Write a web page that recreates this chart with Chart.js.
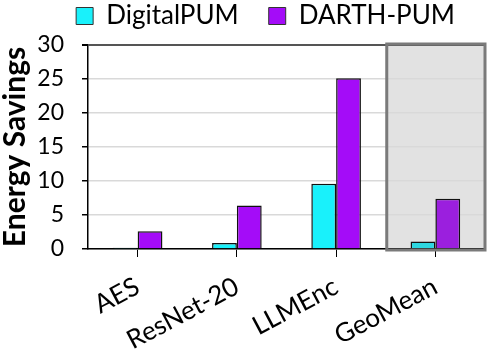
<!DOCTYPE html>
<html>
<head>
<meta charset="utf-8">
<script src="https://cdn.jsdelivr.net/npm/chart.js@4.4.0/dist/chart.umd.min.js"></script>
<style>
  body { margin: 0; background: #fff; }
</style>
</head>
<body>
<canvas id="myChart" width="488" height="357"></canvas>
<script>
var categories = ["AES", "ResNet-20", "LLMEnc", "GeoMean"]
var digitalPUM = [0.2, 0.9, 9.6, 1.1]
var darthPUM = [2.6, 6.4, 25.1, 7.4]
var yTicks = [0, 5, 10, 15, 20, 25, 30]

var cyan = "#19F1FB", cyanGeo = "#2DD7E0"
var purple = "#A40CF8", purpleGeo = "#9B1FDE"
var font = "Lato, 'Open Sans', sans-serif"

// grey box behind the GeoMean group
var geoBox = {
    id: 'geoBox',
    beforeInit: function(chart){
        // legend sits high, leave room under it
        var lg = chart.legend
        var fit = lg.fit
        lg.fit = function(){ fit.call(lg); lg.height = 72 }
    },
    rect: function(chart){
        var x = chart.scales.x, y = chart.scales.y
        var half = (x.getPixelForValue(1) - x.getPixelForValue(0)) / 2
        var cx = x.getPixelForValue(3)
        return {l: cx - half + 1, r: cx + half, t: y.getPixelForValue(30) - 1, b: y.getPixelForValue(0) + 1}
    },
    beforeDraw: function(chart){
        var r = this.rect(chart), c = chart.ctx
        c.save()
        c.fillStyle = "#E2E2E2"
        c.fillRect(r.l, r.t, r.r - r.l, r.b - r.t)
        c.restore()
    },
    afterDatasetsDraw: function(chart){
        var r = this.rect(chart), c = chart.ctx
        c.save()
        c.strokeStyle = "#7A7A7A"
        c.lineWidth = 3
        c.strokeRect(r.l, r.t, r.r - r.l, r.b - r.t)
        c.restore()
    }
}

var myChart = document.getElementById("myChart").getContext('2d')
var chart = new Chart(myChart, {
    type: 'bar',
    data: {
        labels: categories,
        datasets: [{
            label: "DigitalPUM",
            data: digitalPUM,
            backgroundColor: [cyan, cyan, cyan, cyanGeo],
            borderColor: "#111",
            borderWidth: 1.5,
            categoryPercentage: 0.5,
            barPercentage: 1.0
        }, {
            label: "DARTH-PUM",
            data: darthPUM,
            backgroundColor: [purple, purple, purple, purpleGeo],
            borderColor: "#111",
            borderWidth: 1.5,
            categoryPercentage: 0.5,
            barPercentage: 1.0
        }]
    },
    plugins: [geoBox],
    options: {
        responsive: false,
        animation: false,
        layout: { padding: { left: -3, right: 3, top: -27, bottom: 0 } },
        plugins: {
            tooltip: { enabled: false },
            legend: {
                position: 'top',
                align: 'end',
                labels: {
                    color: "#000",
                    font: { family: font, size: 26 },
                    boxWidth: 17,
                    boxHeight: 17,
                    padding: 30,
                    generateLabels: function(chart){
                        return [
                            {text: "DigitalPUM", fillStyle: cyan, strokeStyle: "#333", lineWidth: 1, datasetIndex: 0},
                            {text: "DARTH-PUM", fillStyle: purple, strokeStyle: "#333", lineWidth: 1, datasetIndex: 1}
                        ]
                    }
                }
            }
        },
        scales: {
            x: {
                offset: true,
                grid: { offset: false, drawOnChartArea: false, drawTicks: true, tickLength: 8, tickColor: "#000" },
                border: { color: "#000", width: 1.5 },
                ticks: {
                    color: "#000",
                    font: { family: font, size: 26 },
                    minRotation: 28, maxRotation: 28,
                    padding: 14
                },
                afterFit: function(s){ s.height = 108 }
            },
            y: {
                min: 0, max: 30,
                afterBuildTicks: function(s){ s.ticks = yTicks.map(function(v){ return {value: v} }) },
                grid: {
                    color: function(ctx){ return ctx.tick && ctx.tick.value === 30 ? "#555" : "#D9D9D9" },
                    lineWidth: function(ctx){ return ctx.tick && ctx.tick.value === 30 ? 2 : 1.5 },
                    tickLength: 6,
                    tickColor: "#000"
                },
                border: { color: "#000", width: 1.5 },
                ticks: { color: "#000", font: { family: font, size: 23 }, padding: 18 },
                title: { display: true, text: "Energy Savings", color: "#000", font: { family: font, size: 30, weight: 'bold' }, padding: 0 },
                afterFit: function(s){ s.width = 91 }
            }
        }
    }
})
</script>
</body>
</html>
